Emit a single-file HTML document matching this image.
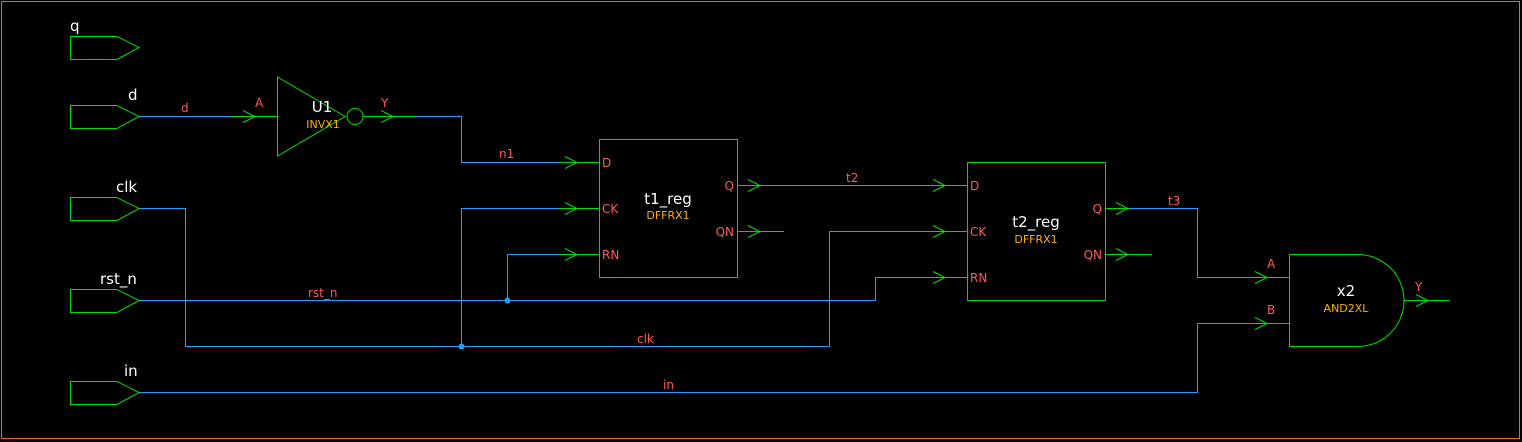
<!DOCTYPE html>
<html><head><meta charset="utf-8"><style>
html,body{margin:0;padding:0;background:#000;}
svg{display:block}
text{font-family:"DejaVu Sans","Liberation Sans",sans-serif;}
.w{fill:#fff;font-size:15px}
.r{fill:#ff5a5a;font-size:12px}
.o{fill:#ffb000;font-size:11px}
.g{stroke:#00e000;fill:none;stroke-width:1}
.b{stroke:#1ea0ff;fill:none;stroke-width:1}
</style></head><body>
<svg width="1522" height="442" xmlns="http://www.w3.org/2000/svg">
<rect x="1.5" y="1.5" width="1518" height="437" fill="none" stroke="#ff6010" stroke-width="1"/>
<!-- ports -->
<g class="g">
<path d="M70.5 36.5H117L139 47.5L117 59.5H70.5Z"/>
<path d="M70.5 105.5H117L139 116.5L117 128.5H70.5Z"/>
<path d="M70.5 197.5H117L139 208.5L117 220.5H70.5Z"/>
<path d="M70.5 289.5H117L139 300.5L117 312.5H70.5Z"/>
<path d="M70.5 381.5H117L139 392.5L117 404.5H70.5Z"/>
</g>
<text class="w" x="70" y="31">q</text>
<text class="w" x="128" y="100">d</text>
<text class="w" x="116" y="192">clk</text>
<text class="w" x="100" y="284">rst_n</text>
<text class="w" x="124" y="376">in</text>
<!-- blue wires -->
<g class="b">
<path d="M139 116.5H232"/>
<path d="M415 116.5H461.5V162.5H560"/>
<path d="M139 208.5H185.5V346.5H829.5V231.5H945"/>
<path d="M461.5 346.5V208.5H560"/>
<path d="M139 300.5H875.5V277.5H945"/>
<path d="M507.5 300.5V254.5H560"/>
<path d="M760 185.5H945"/>
<path d="M1130 208.5H1197.5V277.5H1250"/>
<path d="M139 392.5H1197.5V323.5H1250"/>
</g>
<circle cx="461.5" cy="346.5" r="3" fill="#1ea0ff"/>
<circle cx="507.5" cy="300.5" r="3" fill="#1ea0ff"/>
<!-- green pin stubs -->
<g class="g">
<path d="M232 116.5H277"/>
<path d="M363 116.5H415"/>
<path d="M560 162.5H599M560 208.5H599M560 254.5H599"/>
<path d="M737 185.5H760M737 231.5H784"/>
<path d="M945 185.5H967M945 231.5H967M945 277.5H967"/>
<path d="M1105 208.5H1130M1105 254.5H1152"/>
<path d="M1250 277.5H1289M1250 323.5H1289"/>
<path d="M1404 300.5H1450"/>
<!-- arrows -->
<path d="M243 110.5L255 116.5L243 122.5"/>
<path d="M381 110.5L393 116.5L381 122.5"/>
<path d="M565 156.5L577 162.5L565 168.5M565 202.5L577 208.5L565 214.5M565 248.5L577 254.5L565 260.5"/>
<path d="M748 179.5L760 185.5L748 191.5M748 225.5L760 231.5L748 237.5"/>
<path d="M933 179.5L945 185.5L933 191.5M933 225.5L945 231.5L933 237.5M933 271.5L945 277.5L933 283.5"/>
<path d="M1116 202.5L1128 208.5L1116 214.5M1116 248.5L1128 254.5L1116 260.5"/>
<path d="M1255 271.5L1267 277.5L1255 283.5M1255 317.5L1267 323.5L1255 329.5"/>
<path d="M1416 294.5L1428 300.5L1416 306.5"/>
<!-- cells -->
<path d="M277.5 77L277.5 156L345 116.5Z"/>
<circle cx="355" cy="116.5" r="8"/>
<rect x="599.5" y="139.5" width="138" height="138"/>
<rect x="967.5" y="162.5" width="138" height="138"/>
<path d="M1289.5 254.5H1358A46 46 0 0 1 1358 346.5H1289.5Z"/>
</g>
<!-- labels -->
<text class="w" x="322" y="112" text-anchor="middle">U1</text>
<text class="o" x="323" y="128" text-anchor="middle">INVX1</text>
<text class="r" x="255" y="107">A</text>
<text class="r" x="381" y="107">Y</text>
<text class="r" x="181" y="112">d</text>
<text class="r" x="499" y="158">n1</text>
<text class="w" x="668" y="204" text-anchor="middle">t1_reg</text>
<text class="o" x="668" y="219" text-anchor="middle">DFFRX1</text>
<text class="r" x="602" y="167">D</text>
<text class="r" x="602" y="213">CK</text>
<text class="r" x="602" y="259">RN</text>
<text class="r" x="734" y="190" text-anchor="end">Q</text>
<text class="r" x="734" y="236" text-anchor="end">QN</text>
<text class="w" x="1036" y="227" text-anchor="middle">t2_reg</text>
<text class="o" x="1036" y="243" text-anchor="middle">DFFRX1</text>
<text class="r" x="970" y="190">D</text>
<text class="r" x="970" y="236">CK</text>
<text class="r" x="970" y="282">RN</text>
<text class="r" x="1102" y="213" text-anchor="end">Q</text>
<text class="r" x="1102" y="259" text-anchor="end">QN</text>
<text class="w" x="1346" y="296" text-anchor="middle">x2</text>
<text class="o" x="1346" y="312" text-anchor="middle">AND2XL</text>
<text class="r" x="1267" y="268">A</text>
<text class="r" x="1267" y="314">B</text>
<text class="r" x="1415" y="291">Y</text>
<text class="r" x="846" y="182">t2</text>
<text class="r" x="1168" y="205">t3</text>
<text class="r" x="308" y="297">rst_n</text>
<text class="r" x="637" y="343">clk</text>
<text class="r" x="663" y="389">in</text>
</svg>
</body></html>
